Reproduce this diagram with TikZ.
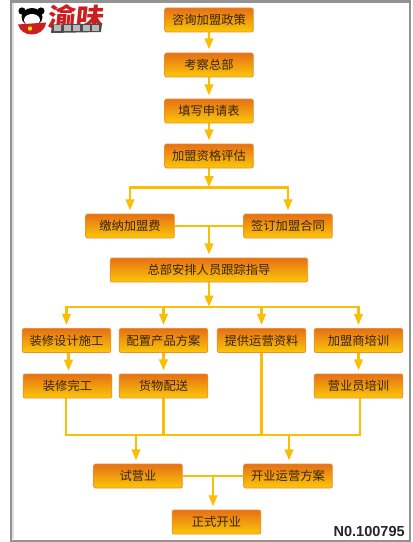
\documentclass[tikz,border=0pt]{standalone}
\usepackage{fontspec}
\setmainfont{Noto Sans CJK SC}
\setsansfont{Liberation Sans}
\usetikzlibrary{arrows.meta,calc,backgrounds}
\definecolor{lin}{RGB}{250,190,5}
\definecolor{bt}{RGB}{230,112,22}
\definecolor{bb}{RGB}{250,200,8}
\definecolor{be}{RGB}{240,140,50}
\definecolor{txt}{RGB}{55,38,5}
\definecolor{logored}{RGB}{205,30,30}
\tikzset{
 fbox/.style={draw=be,line width=.6pt,rounded corners=1.5pt,top color=bt,bottom color=bb,minimum height=18pt,minimum width=66.5pt,inner sep=0pt,font=\fontsize{9.2pt}{10pt}\selectfont,text=txt},
 wide/.style={minimum width=148pt},
 conn/.style={draw=lin,line width=2.1pt},
 arr/.style={conn,-{Triangle[length=8.5pt,width=6.2pt,fill=lin]},shorten >=2.2pt},
}
\begin{document}
\begin{tikzpicture}[x=.75pt,y=-.75pt]
\useasboundingbox (0,0) rectangle (413,542);
\node[fbox] (a) at (209,20) {咨询加盟政策};
\node[fbox] (b) at (209,65) {考察总部};
\node[fbox] (c) at (209,111) {填写申请表};
\node[fbox] (d) at (209,156) {加盟资格评估};
\node[fbox] (e) at (130,226) {缴纳加盟费};
\node[fbox] (f) at (288,226) {签订加盟合同};
\node[fbox,wide] (g) at (209,270) {总部安排人员跟踪指导};
\node[fbox] (h1) at (66.5,340.5) {装修设计施工};
\node[fbox] (h2) at (163.5,340.5) {配置产品方案};
\node[fbox] (h3) at (261.5,340.5) {提供运营资料};
\node[fbox] (h4) at (358.5,340.5) {加盟商培训};
\node[fbox] (i1) at (67.5,386) {装修完工};
\node[fbox] (i2) at (163.5,386) {货物配送};
\node[fbox] (i4) at (358.5,386) {营业员培训};
\node[fbox] (j1) at (138,476) {试营业};
\node[fbox] (j2) at (288,476) {开业运营方案};
\node[fbox] (k) at (216.5,522) {正式开业};
\node[font=\sffamily\bfseries\fontsize{10.9pt}{11pt}\selectfont,anchor=east,text=black!85,inner sep=0pt] (no) at (405,531.7) {N0.100795};
\coordinate (t1) at (209,187.5);
\coordinate (t2) at (209,226);
\coordinate (t3) at (209,307);
\coordinate (b1) at (136,435);
\coordinate (b2) at (289,435);
\coordinate (m) at (213,476);
\coordinate (s1) at (68.5,362);
\coordinate (s2) at (68.5,374);
\coordinate (bl) at (66,435);
\coordinate (br) at (360,435);
\begin{scope}[on background layer]
\fill[white] (0,0) rectangle (413,542);
\draw[gray!85,line width=1.6pt] (11,1.5) -- (11,540.7) -- (410,540.7) -- (410,1.5) -- cycle;
\draw[gray!25,line width=1pt] (13,3) -- (13,539);
\draw[arr] (a) -- (b);
\draw[arr] (b) -- (c);
\draw[arr] (c) -- (d);
\draw[arr,shorten >=0pt] (d) -- (t1);
\draw[conn,line cap=rect] (e.north |- t1) -- (f.north |- t1);
\draw[arr] (e.north |- t1) -- (e.north);
\draw[arr] (f.north |- t1) -- (f.north);
\draw[conn] (e) -- (f);
\draw[arr] (t2) -- (g);
\draw[arr,shorten >=0pt] (g) -- (t3);
\draw[conn,line cap=rect] (h1.north |- t3) -- (h4.north |- t3);
\draw[arr] (h1.north |- t3) -- (h1.north);
\draw[arr] (h2.north |- t3) -- (h2.north);
\draw[arr] (h3.north |- t3) -- (h3.north);
\draw[arr] (h4.north |- t3) -- (h4.north);
\draw[arr] (s1 |- h1.south) -- (s2);
\draw[arr] (h2) -- (i2);
\draw[arr] (h4) -- (i4);
\draw[conn,line cap=rect] (bl |- i1.south) -- (bl) -- (br) -- (br |- i4.south);
\draw[conn] (i2.south) -- (i2.south |- b1);
\draw[conn] (h3.south) -- (h3.south |- b1);
\draw[arr] (b1) -- (j1.north -| b1);
\draw[arr] (b2) -- (j2.north -| b2);
\draw[conn,line width=1.5pt] (j1) -- (j2);
\draw[arr] (m) -- (k.north -| m);
\end{scope}
% logo
\fill[black] (22,11) circle (3.6) (41,11) circle (3.6);
\fill[black] (32,17) ellipse (10.5 and 9);
\fill[white] (32,20) ellipse (8 and 6);
\fill[logored] (18,24.5) -- (46,22.5) .. controls (45,31) and (38,34.5) .. (32,34.5) .. controls (25,34.5) and (20,31) .. (18,24.5) -- cycle;
\fill[yellow!90!orange] (30,28.5) circle (2.2);
\node[font=\bfseries\fontsize{19pt}{19pt}\selectfont,text=logored,xslant=.1,xscale=1.1,inner sep=0pt,anchor=west] (logo) at (48,17) {渝味};
\fill[black!70] (52,24.5) -- (102,23.5) -- (101,32) -- (51,33) -- cycle;
\foreach \x in {54,63.5,73,82.5,92}
  \fill[gray!55] (\x,25.5) rectangle ++(7,5.5);
\end{tikzpicture}
\end{document}
